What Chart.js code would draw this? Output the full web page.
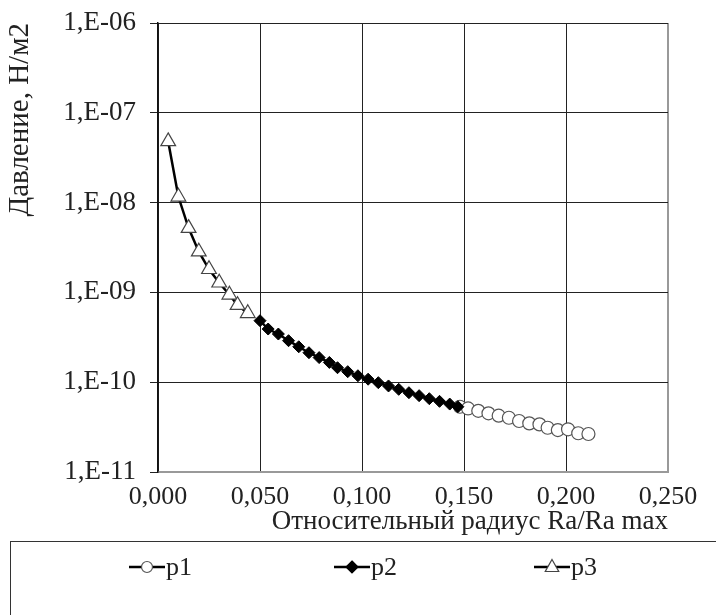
<!DOCTYPE html>
<html><head><meta charset="utf-8">
<script src="https://cdn.jsdelivr.net/npm/chart.js@4/dist/chart.umd.min.js"></script>
<style>html,body{margin:0;padding:0;background:#fff}#wrap{width:716px;height:615px}</style>
</head><body><div id="wrap"><canvas id="c" width="716" height="615"></canvas></div>
<script>
const seriesNames = ['p1', 'p2', 'p3'];
const p1X = [0.148, 0.152, 0.157, 0.162, 0.167, 0.172, 0.177, 0.182, 0.187, 0.191, 0.196, 0.201, 0.206, 0.211];
const p1Y = [5.33e-11, 5.1e-11, 4.8e-11, 4.5e-11, 4.24e-11, 4.02e-11, 3.7e-11, 3.48e-11, 3.39e-11, 3.11e-11, 2.93e-11, 2.99e-11, 2.7e-11, 2.65e-11];
const p2X = [0.050, 0.054, 0.059, 0.064, 0.069, 0.074, 0.079, 0.084, 0.088, 0.093, 0.098, 0.103, 0.108, 0.113, 0.118, 0.123, 0.128, 0.133, 0.138, 0.143, 0.147];
const p2Y = [4.84e-10, 3.91e-10, 3.44e-10, 2.90e-10, 2.48e-10, 2.13e-10, 1.88e-10, 1.66e-10, 1.45e-10, 1.31e-10, 1.18e-10, 1.08e-10, 9.88e-11, 9.08e-11, 8.33e-11, 7.64e-11, 7.08e-11, 6.55e-11, 6.12e-11, 5.71e-11, 5.33e-11];
const p3X = [0.005, 0.010, 0.015, 0.020, 0.025, 0.030, 0.035, 0.039, 0.044];
const p3Y = [4.8e-8, 1.16e-8, 5.2e-9, 2.84e-9, 1.81e-9, 1.28e-9, 9.4e-10, 7.2e-10, 5.85e-10];
const xTickValues = [0, 0.05, 0.10, 0.15, 0.20, 0.25];
const xTickLabels = ['0,000', '0,050', '0,100', '0,150', '0,200', '0,250'];
const yTickValues = [1e-11, 1e-10, 1e-9, 1e-8, 1e-7, 1e-6];
const yTickLabels = ['1,E-11', '1,E-10', '1,E-09', '1,E-08', '1,E-07', '1,E-06'];
const xTitle = 'Относительный радиус Ra/Ra max';
const yTitle = 'Давление, Н/м2';

const FONT = "'Liberation Serif', 'Times New Roman', serif";
const TXT = '#222';
const zip = (xs, ys) => xs.map((x, i) => ({x, y: ys[i]}));

const styles = [
  {pointStyle: 'circle', radius: 6.5, bg: '#fff', border: '#555', bw: 1.2},
  {pointStyle: 'rectRot', radius: 6, bg: '#000', border: '#000', bw: 1},
  {pointStyle: 'triangle', radius: 8.5, bg: '#fff', border: '#444', bw: 1.2}
];
const dataPairs = [zip(p1X, p1Y), zip(p2X, p2Y), zip(p3X, p3Y)];

const legendPlugin = {
  id: 'excelLegend',
  afterDraw(chart) {
    const ctx = chart.ctx;
    ctx.save();
    ctx.strokeStyle = '#333';
    ctx.lineWidth = 1;
    ctx.strokeRect(10.5, 541.5, 800, 200);
    const centers = [147, 352, 552];
    const cy = 567;
    seriesNames.forEach((name, i) => {
      const cx = centers[i];
      const s = styles[i];
      ctx.strokeStyle = '#000';
      ctx.lineWidth = 2.5;
      ctx.beginPath(); ctx.moveTo(cx - 18, cy); ctx.lineTo(cx + 18, cy); ctx.stroke();
      ctx.lineWidth = 1.2;
      ctx.fillStyle = s.bg; ctx.strokeStyle = s.border;
      ctx.beginPath();
      if (s.pointStyle === 'circle') {
        ctx.arc(cx, cy, 5.5, 0, Math.PI * 2);
      } else if (s.pointStyle === 'rectRot') {
        const r = 6; ctx.moveTo(cx, cy - r); ctx.lineTo(cx + r, cy); ctx.lineTo(cx, cy + r); ctx.lineTo(cx - r, cy); ctx.closePath();
      } else {
        const r = 7.5; ctx.moveTo(cx, cy - r); ctx.lineTo(cx + r * 0.9, cy + r * 0.6); ctx.lineTo(cx - r * 0.9, cy + r * 0.6); ctx.closePath();
      }
      ctx.fill(); ctx.stroke();
      ctx.fillStyle = TXT;
      ctx.font = "26px " + FONT;
      ctx.textBaseline = 'middle';
      ctx.textAlign = 'left';
      ctx.fillText(name, cx + 19, cy + 1);
    });
    ctx.restore();
  }
};

new Chart(document.getElementById('c'), {
  type: 'scatter',
  data: {
    datasets: seriesNames.map((name, i) => ({
      label: name,
      data: dataPairs[i],
      showLine: true,
      borderColor: '#000',
      borderWidth: 2.5,
      tension: 0,
      pointStyle: styles[i].pointStyle,
      pointRadius: styles[i].radius,
      pointBackgroundColor: styles[i].bg,
      pointBorderColor: styles[i].border,
      pointBorderWidth: styles[i].bw,
      order: 3 - i
    }))
  },
  options: {
    responsive: false,
    animation: false,
    layout: {padding: {top: 23, right: 48, bottom: 74, left: 0}},
    plugins: {legend: {display: false}, tooltip: {enabled: false}},
    scales: {
      x: {
        type: 'linear', min: 0, max: 0.25,
        afterBuildTicks: s => { s.ticks = xTickValues.map(v => ({value: v})); },
        afterFit: s => { s.height = 69; s.paddingLeft = 0; s.paddingRight = 0; },
        ticks: {padding: 10, color: TXT, font: {family: FONT, size: 26}, maxRotation: 0,
          callback: (v, i) => xTickLabels[i]},
        grid: {drawTicks: false,
          color: c => (c.tick && c.tick.value === 0.25) ? '#999' : '#222',
          lineWidth: c => (c.tick && c.tick.value === 0.25) ? 2 : 1},
        border: {color: '#999', width: 2},
        title: {display: true, text: xTitle, align: 'end', color: TXT,
          font: {family: FONT, size: 27}, padding: {top: 0, bottom: 3}}
      },
      y: {
        type: 'logarithmic', min: 1e-11, max: 1e-6,
        afterBuildTicks: s => { s.ticks = yTickValues.map(v => ({value: v})); },
        afterFit: s => { s.width = 158; s.paddingTop = 0; s.paddingBottom = 0; },
        ticks: {padding: 14, color: TXT, font: {family: FONT, size: 27},
          callback: (v, i) => yTickLabels[i]},
        grid: {color: '#222', lineWidth: 1, tickLength: 8},
        border: {color: '#111', width: 1.5},
        title: {display: true, text: yTitle, align: 'end', color: TXT,
          font: {family: FONT, size: 29}, padding: {top: 3, bottom: 0}}
      }
    }
  },
  plugins: [legendPlugin]
});
</script></body></html>
